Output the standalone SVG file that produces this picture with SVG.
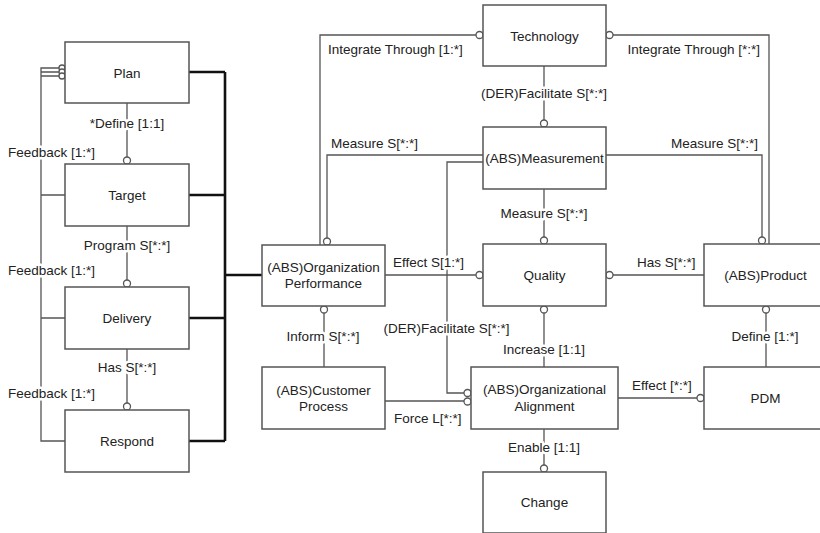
<svg xmlns="http://www.w3.org/2000/svg" width="820" height="533" viewBox="0 0 820 533">
<style>
.box{fill:#fff;stroke:#555;stroke-width:1.5}
.ln{fill:none;stroke:#555;stroke-width:1.3}
.thick{fill:none;stroke:#111;stroke-width:2.6}
.c{fill:#fff;stroke:#555;stroke-width:1.3}
text{font-family:"Liberation Sans",Arial,sans-serif;font-size:13.5px;fill:#222}
.m{text-anchor:middle}
.e{text-anchor:end}
.lbl{paint-order:stroke;stroke:#fff;stroke-width:5;stroke-linejoin:round}
</style>
<rect width="820" height="533" fill="#fff"/>
<g id="connectors">
<path class="thick" d="M189,72 H225 M189,195 H225 M189,318 H225 M189,441 H225 M225,72 V441 M225,275 H262"/>
<path class="ln" d="M65,195 H41 V68 H59 M65,318 H41 V72 H59 M65,441 H41 V76 H59"/>
<path class="ln" d="M127,103 V157 M127,226 V280 M127,349 V403"/>
<path class="ln" d="M544,66 V120 M480,35 H320 V245 M483,155 H327 V238 M609,35 H769 V244 M606,155 H762 V237 M544,189 V237"/>
<path class="ln" d="M483,162 H447 V393 H464 M385,401 H464 M385,275 H476 M324,313 V367 M612,275 H704 M544,313 V367 M766,313 V367 M618,398 H697 M544,429 V465"/>
<circle class="c" cx="62" cy="68" r="3"/>
<circle class="c" cx="62" cy="72" r="3"/>
<circle class="c" cx="62" cy="76" r="3"/>
<circle class="c" cx="127" cy="160.5" r="3.5"/>
<circle class="c" cx="127" cy="283.5" r="3.5"/>
<circle class="c" cx="127" cy="406.5" r="3.5"/>
<circle class="c" cx="544" cy="123.5" r="3.5"/>
<circle class="c" cx="479.5" cy="35" r="3.5"/>
<circle class="c" cx="327" cy="241.5" r="3.5"/>
<circle class="c" cx="609.5" cy="35" r="3.5"/>
<circle class="c" cx="762" cy="240.5" r="3.5"/>
<circle class="c" cx="544" cy="240.5" r="3.5"/>
<circle class="c" cx="467.5" cy="393" r="3.5"/>
<circle class="c" cx="467.5" cy="401.5" r="3.5"/>
<circle class="c" cx="479.5" cy="275" r="3.5"/>
<circle class="c" cx="324" cy="309.5" r="3.5"/>
<circle class="c" cx="609.5" cy="275" r="3.5"/>
<circle class="c" cx="544" cy="309.5" r="3.5"/>
<circle class="c" cx="766" cy="309.5" r="3.5"/>
<circle class="c" cx="700.5" cy="398" r="3.5"/>
<circle class="c" cx="544" cy="468.5" r="3.5"/>
<text class="lbl m" x="127" y="128">*Define [1:1]</text>
<text class="lbl m" x="127" y="250">Program S[*:*]</text>
<text class="lbl m" x="127" y="372">Has S[*:*]</text>
<text class="lbl" x="8" y="157">Feedback [1:*]</text>
<text class="lbl" x="8" y="275">Feedback [1:*]</text>
<text class="lbl" x="8" y="398">Feedback [1:*]</text>
<text class="lbl m" x="544" y="98">(DER)Facilitate S[*:*]</text>
<text class="lbl" x="328" y="54">Integrate Through [1:*]</text>
<text class="lbl" x="331" y="148">Measure S[*:*]</text>
<text class="lbl e" x="760" y="54">Integrate Through [*:*]</text>
<text class="lbl e" x="758" y="148">Measure S[*:*]</text>
<text class="lbl m" x="544" y="218">Measure S[*:*]</text>
<text class="lbl m" x="446.5" y="333">(DER)Facilitate S[*:*]</text>
<text class="lbl" x="394" y="423">Force L[*:*]</text>
<text class="lbl" x="393" y="267">Effect S[1:*]</text>
<text class="lbl m" x="323" y="341">Inform S[*:*]</text>
<text class="lbl" x="637" y="267">Has S[*:*]</text>
<text class="lbl m" x="544" y="354">Increase [1:1]</text>
<text class="lbl m" x="765" y="341">Define [1:*]</text>
<text class="lbl" x="632" y="390">Effect [*:*]</text>
<text class="lbl m" x="544" y="452">Enable [1:1]</text>
</g>
<g id="plan"><rect class="box" x="65" y="42" width="124" height="61"/><text class="m" x="127" y="77.5">Plan</text></g>
<g id="target"><rect class="box" x="65" y="164" width="124" height="62"/><text class="m" x="127" y="200">Target</text></g>
<g id="delivery"><rect class="box" x="65" y="287" width="124" height="62"/><text class="m" x="127" y="323">Delivery</text></g>
<g id="respond"><rect class="box" x="65" y="410" width="124" height="62"/><text class="m" x="127" y="446">Respond</text></g>
<g id="technology"><rect class="box" x="483" y="5" width="123" height="61"/><text class="m" x="544.5" y="40.5">Technology</text></g>
<g id="measurement"><rect class="box" x="483" y="127" width="123" height="62"/><text class="m" x="544.5" y="163">(ABS)Measurement</text></g>
<g id="quality"><rect class="box" x="483" y="244" width="123" height="62"/><text class="m" x="544.5" y="280">Quality</text></g>
<g id="product"><rect class="box" x="704" y="244" width="123" height="62"/><text class="m" x="765.5" y="280">(ABS)Product</text></g>
<g id="pdm"><rect class="box" x="704" y="367" width="123" height="62"/><text class="m" x="765.5" y="403">PDM</text></g>
<g id="org-performance"><rect class="box" x="262" y="245" width="123" height="61"/><text class="m" x="323.5" y="272">(ABS)Organization</text><text class="m" x="323.5" y="288">Performance</text></g>
<g id="customer-process"><rect class="box" x="262" y="367" width="123" height="62"/><text class="m" x="323.5" y="395">(ABS)Customer</text><text class="m" x="323.5" y="411">Process</text></g>
<g id="org-alignment"><rect class="box" x="471" y="367" width="147" height="62"/><text class="m" x="544.5" y="394">(ABS)Organizational</text><text class="m" x="544.5" y="411">Alignment</text></g>
<g id="change"><rect class="box" x="483" y="472" width="123" height="61"/><text class="m" x="544.5" y="507">Change</text></g>
</svg>
